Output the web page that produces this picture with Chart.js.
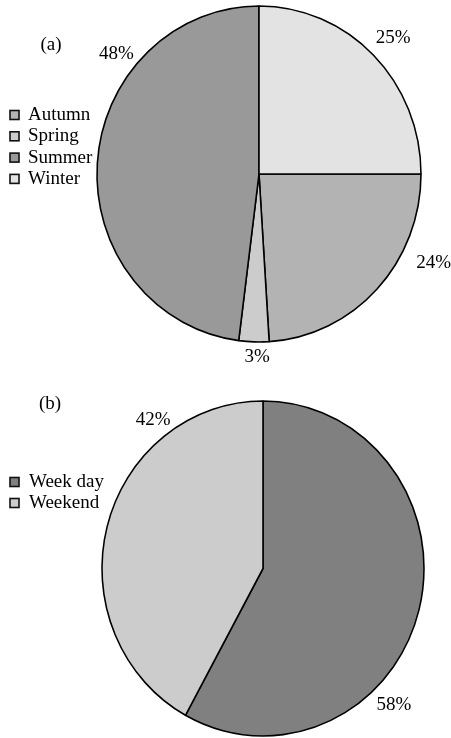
<!DOCTYPE html>
<html>
<head>
<meta charset="utf-8">
<script src="https://cdn.jsdelivr.net/npm/chart.js@4"></script>
<style>
  html, body { margin: 0; padding: 0; background: #fff; }
  #wrap { position: relative; width: 451px; height: 738px; }
  .panel { position: absolute; left: 0; width: 451px; height: 369px; }
  canvas { display: block; }
</style>
</head>
<body>
<div id="wrap">
  <div class="panel" style="top:0"><canvas id="seasons" width="451" height="369"></canvas></div>
  <div class="panel" style="top:369px"><canvas id="days" width="451" height="369"></canvas></div>
</div>
<script>
// Share of records by season (%)
const seasonLabels = ['Autumn', 'Spring', 'Summer', 'Winter'];
const seasonShares = [24, 3, 48, 25];
const seasonColors = ['#b3b3b3', '#cccccc', '#999999', '#e3e3e3'];

// Share of records by type of day (%)
const dayLabels = ['Week day', 'Weekend'];
const dayShares = [58, 42];
const dayColors = ['#808080', '#cccccc'];

const FONT = '19px "Liberation Serif", "Times New Roman", serif';

// Draws the pie slightly oval (taller than wide), then the panel tag,
// a boxed legend and the percentage labels around it.
const pieDecor = {
  id: 'pieDecor',
  beforeDatasetsDraw(chart, args, opts) {
    const arc = chart.getDatasetMeta(0).data[0];
    const ctx = chart.ctx;
    ctx.save();
    ctx.translate(arc.x, arc.y);
    ctx.scale(opts.aspect.sx, opts.aspect.sy);
    ctx.translate(-arc.x, -arc.y);
  },
  afterDatasetsDraw(chart, args, opts) {
    const ctx = chart.ctx;
    ctx.restore();
    const ds = chart.data.datasets[0];
    const arcs = chart.getDatasetMeta(0).data;
    const cx = arcs[0].x, cy = arcs[0].y;
    ctx.save();
    ctx.font = FONT;
    ctx.fillStyle = '#000';
    ctx.textBaseline = 'middle';

    // panel tag
    ctx.textAlign = 'center';
    ctx.fillText(opts.tag.text, opts.tag.x, opts.tag.y);

    // percentage labels (angle clockwise from 12 o'clock, distance from centre)
    ds.data.forEach((v, i) => {
      const [deg, dist] = opts.labelAt[i];
      const a = deg * Math.PI / 180;
      ctx.fillText(v + '%', cx + dist * Math.sin(a), cy - dist * Math.cos(a));
    });

    // legend
    ctx.textAlign = 'left';
    const lg = opts.legend;
    chart.data.labels.forEach((lab, i) => {
      const y = lg.y + i * lg.gap;
      ctx.fillStyle = ds.backgroundColor[i];
      ctx.fillRect(lg.x, y - 4.5, 9, 9);
      ctx.lineWidth = 1.6;
      ctx.strokeStyle = '#111';
      ctx.strokeRect(lg.x, y - 4.5, 9, 9);
      ctx.fillStyle = '#000';
      ctx.fillText(lab, lg.textX, y);
    });
    ctx.restore();
  }
};

function pie(id, labels, values, colors, rotation, padding, decor) {
  return new Chart(document.getElementById(id), {
    type: 'pie',
    data: {
      labels: labels,
      datasets: [{
        data: values,
        backgroundColor: colors,
        borderColor: '#000',
        borderWidth: 1.6,
        hoverOffset: 0
      }]
    },
    options: {
      responsive: false,
      animation: false,
      rotation: rotation,
      radius: 165,
      layout: { padding: padding },
      events: [],
      plugins: {
        legend: { display: false },
        tooltip: { enabled: false },
        pieDecor: decor
      }
    },
    plugins: [pieDecor]
  });
}

pie('seasons', seasonLabels, seasonShares, seasonColors, 90,
  { left: 67, right: 0, top: 0, bottom: 21 },
  {
    aspect: { sx: 162 / 165, sy: 168 / 165 },
    tag: { text: '(a)', x: 51, y: 45 },
    legend: { x: 10, y: 115, gap: 21.3, textX: 28 },
    labelAt: [[117, 196], [180.6, 183], [310, 186], [44.6, 191]]
  });

pie('days', dayLabels, dayShares, dayColors, 0,
  { left: 75, right: 0, top: 30, bottom: 0 },
  {
    aspect: { sx: 161 / 165, sy: 167.5 / 165 },
    tag: { text: '(b)', x: 50, y: 35 },
    legend: { x: 10, y: 113, gap: 21, textX: 29 },
    labelAt: [[136.3, 189.5], [323.6, 185]]
  });
</script>
</body>
</html>
